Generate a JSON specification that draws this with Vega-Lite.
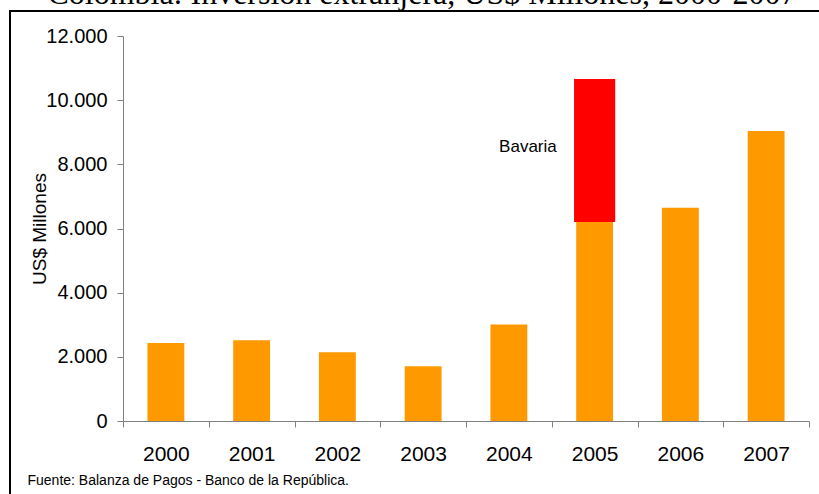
{
  "$schema": "https://vega.github.io/schema/vega-lite/v6.json",
  "width": 812,
  "height": 486,
  "autosize": {"type": "none"},
  "padding": {"left": 10, "top": 11, "right": -3, "bottom": -3},
  "background": "white",
  "title": {
    "text": "Colombia: Inversión extranjera, US$ Millones, 2000-2007",
    "font": "Liberation Serif",
    "fontSize": 32,
    "fontWeight": "normal",
    "color": "black",
    "anchor": "middle",
    "frame": "group",
    "offset": 0,
    "baseline": "alphabetic",
    "dx": 6,
    "dy": 25
  },
  "data": {
    "values": [
      {"year": "2000", "componente": "Otros", "valor": 2430},
      {"year": "2001", "componente": "Otros", "valor": 2520},
      {"year": "2002", "componente": "Otros", "valor": 2140},
      {"year": "2003", "componente": "Otros", "valor": 1710},
      {"year": "2004", "componente": "Otros", "valor": 3010},
      {"year": "2005", "componente": "Otros", "valor": 6200},
      {"year": "2005", "componente": "Bavaria", "valor": 4460},
      {"year": "2006", "componente": "Otros", "valor": 6650},
      {"year": "2007", "componente": "Otros", "valor": 9040}
    ]
  },
  "transform": [
    {"stack": "valor", "groupby": ["year"], "sort": [{"field": "componente", "order": "descending"}], "as": ["v0", "v1"]}
  ],
  "layer": [
    {
      "transform": [{"filter": "datum.componente === 'Otros'"}],
      "mark": {"type": "bar", "color": "#FF9900", "width": {"band": 0.43}},
      "encoding": {
        "x": {
          "field": "year",
          "type": "nominal",
          "scale": {"range": [113, 799], "paddingInner": 0, "paddingOuter": 0},
          "axis": {
            "title": "Fuente: Balanza de Pagos - Banco de la República.",
            "offset": -76,
            "labelAngle": 0,
            "labelFont": "Liberation Sans",
            "labelFontSize": 21,
            "labelColor": "black",
            "labelPadding": 16,
            "tickSize": 6,
            "tickBand": "extent",
            "tickColor": "#808080",
            "domainColor": "#808080",
            "grid": false,
            "titleX": 17,
            "titleY": 59,
            "titleAlign": "left",
            "titleBaseline": "middle",
            "titleFont": "Liberation Sans",
            "titleFontSize": 14,
            "titleFontWeight": "normal",
            "titleColor": "black"
          }
        },
        "y": {
          "field": "v1",
          "type": "quantitative",
          "scale": {"domain": [0, 12000], "range": [410, 25], "nice": false},
          "axis": {
            "title": "US$ Millones",
            "offset": -113,
            "values": [0, 2000, 4000, 6000, 8000, 10000, 12000],
            "labelExpr": "replace(format(datum.value, ','), ',', '.')",
            "labelFont": "Liberation Sans",
            "labelFontSize": 20,
            "labelColor": "black",
            "labelPadding": 10,
            "tickSize": 6,
            "tickColor": "#808080",
            "domainColor": "#808080",
            "grid": false,
            "titleFont": "Liberation Sans",
            "titleFontSize": 19,
            "titleFontWeight": "normal",
            "titleColor": "black",
            "titlePadding": -4
          }
        },
        "y2": {"field": "v0"}
      }
    },
    {
      "transform": [{"filter": "datum.componente === 'Bavaria'"}],
      "mark": {"type": "bar", "color": "#FF0000", "width": {"band": 0.48}},
      "encoding": {
        "x": {"field": "year", "type": "nominal"},
        "y": {"field": "v1", "type": "quantitative"},
        "y2": {"field": "v0"}
      }
    },
    {
      "transform": [{"filter": "datum.componente === 'Bavaria'"}],
      "mark": {"type": "text", "align": "right", "baseline": "middle", "dx": 5, "font": "Liberation Sans", "fontSize": 17, "color": "black"},
      "encoding": {
        "x": {"field": "year", "type": "nominal", "bandPosition": 0},
        "y": {"datum": 8530, "type": "quantitative"},
        "text": {"field": "componente"}
      }
    }
  ],
  "config": {
    "view": {"stroke": "black", "strokeWidth": 2}
  }
}
